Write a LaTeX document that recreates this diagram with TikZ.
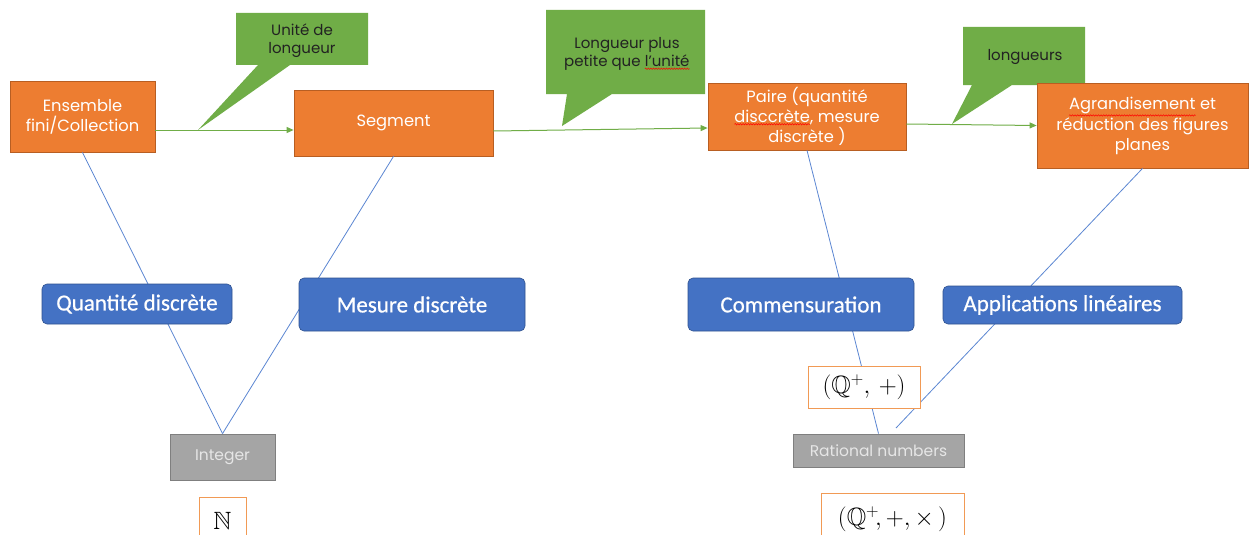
\documentclass[tikz,border=0pt]{standalone}
\usepackage{fontspec}
\usepackage{amssymb}
\setmainfont{Poppins}
\newfontfamily\carlitofont[FakeBold=0.6]{Carlito}
\usetikzlibrary{arrows.meta,decorations.pathmorphing}
\definecolor{ofill}{HTML}{ED7D31}
\definecolor{oline}{HTML}{B85E22}
\definecolor{gfill}{HTML}{70AD47}
\definecolor{bfill}{HTML}{4472C4}
\definecolor{bline}{HTML}{2F528F}
\definecolor{lblue}{HTML}{5B86D2}
\definecolor{grfill}{HTML}{A5A5A5}
\definecolor{grline}{HTML}{7F7F7F}
\definecolor{grtext}{HTML}{E6E6E6}
\definecolor{mline}{HTML}{F19A55}
\definecolor{ctext}{HTML}{222222}
\newcommand\redwave[1]{\tikz[baseline=(w.base)]{\node[rectangle, draw=none, fill=none, minimum width=0pt, minimum height=0pt, inner sep=0pt, outer sep=0pt] (w) {#1}; \draw[red, line width=0.5pt, decorate, decoration={snake, amplitude=0.7pt, segment length=2.6pt}] ([yshift=-2pt]w.south west) -- ([yshift=-2pt]w.south east);}}
\tikzset{
  obox/.style={draw=oline, fill=ofill, line width=0.8pt, text=white, align=center, inner sep=0pt, font=\fontsize{16.3}{20}\selectfont},
  bbox/.style={draw=bline, fill=bfill, line width=0.6pt, rounded corners=5pt, text=white, inner sep=0pt, font=\carlitofont\fontsize{23}{26}\selectfont},
  gbox/.style={draw=grline, fill=grfill, line width=0.8pt, text=grtext, inner sep=0pt, font=\fontsize{15.5}{20}\selectfont},
  mbox/.style={draw=mline, fill=white, line width=0.9pt, inner sep=0pt, font=\fontsize{25}{30}\selectfont},
  callout/.style={fill=gfill},
  ctxt/.style={text=ctext, align=center, inner sep=0pt, font=\fontsize{15}{18}\selectfont},
  link/.style={draw=lblue, line width=0.8pt},
  flow/.style={draw=gfill, line width=1pt, -{Triangle[length=7pt,width=6pt]}}
}
\begin{document}
\begin{tikzpicture}[x=1pt,y=-1pt]
\useasboundingbox[fill=white] (0,0) rectangle (1250,535);
% orange nodes
\node[obox, minimum width=145pt, minimum height=71pt] (ens) at (82.5,116.5) {Ensemble\\fini/Collection};
\node[obox, minimum width=199pt, minimum height=66pt] (seg) at (393.5,123) {Segment};
\node[obox, minimum width=198pt, minimum height=67pt, text depth=4pt] (pai) at (807,116.5) {Paire (quantité\\\redwave{disccrète}, mesure\\discrète )};
% gray nodes
\node[gbox, minimum width=105pt, minimum height=46pt] (int) at (222.5,457) {Integer};
\node[gbox, minimum width=171pt, minimum height=33pt] (rat) at (878.5,450.5) {Rational numbers};
\coordinate (free) at (896,428);
% blue links (behind boxes)
\draw[link] (ens.south) -- (int.north);
\draw[link] (seg.south) -- (int.north);
\draw[link] (pai.south) -- (rat.north);
% callouts
\fill[callout] (236,13) -- (368,13) -- (368,65) -- (290,65) -- (198,130) -- (258,65) -- (236,65) -- cycle;
\node[ctxt] (c1) at (302,41) {Unité de\\longueur};
\fill[callout] (546,10) -- (705,10) -- (705,94) -- (612,94) -- (562,126) -- (567,94) -- (546,94) -- cycle;
\node[ctxt] (c2) at (627,54) {Longueur plus\\petite que \redwave{l'unité}};
\fill[callout] (963,27) -- (1085,27) -- (1085,85) -- (1012,85) -- (952,124) -- (972,85) -- (963,85) -- cycle;
\node[ctxt] (c3) at (1025,57) {longueurs};
\node[obox, minimum width=211pt, minimum height=85pt] (agr) at (1142.5,125.5) {\redwave{Agrandisement} et\\réduction des figures\\planes};
\draw[link] (agr.south) -- (free);
% flow arrows
\draw[flow] ([yshift=-13.5pt]ens.east) -- ([yshift=-7pt]seg.west);
\draw[flow] ([yshift=-8pt]seg.east) -- ([yshift=-11.5pt]pai.west);
\draw[flow] ([yshift=-7.5pt]pai.east) -- ([yshift=0pt]agr.west);
% blue boxes
\node[bbox, minimum width=190pt, minimum height=40pt] (qd) at (137,304) {Quantité discrète};
\node[bbox, minimum width=226pt, minimum height=53pt] (md) at (412,304.5) {Mesure discrète};
\node[bbox, minimum width=226pt, minimum height=53pt] (com) at (801,304.5) {Commensuration};
\node[bbox, minimum width=239pt, minimum height=38pt] (app) at (1062.5,305) {Applications linéaires};
% math boxes
\node[mbox, minimum width=47pt, minimum height=48pt] (nn) at (222.5,521) {$\mathbb{N}$};
\node[mbox, minimum width=112pt, minimum height=42pt] (qp) at (864,387) {$(\mathbb{Q}^{+},\,+)$};
\node[mbox, minimum width=143pt, minimum height=52pt] (qpt) at (892.5,519) {$(\mathbb{Q}^{+}\!,+,\times\,)$};
\end{tikzpicture}
\end{document}
